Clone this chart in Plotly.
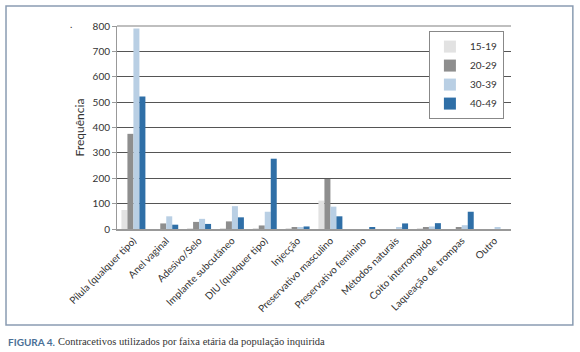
import plotly.graph_objects as go

categories = ["Pílula (qualquer tipo)", "Anel vaginal", "Adesivo/Selo", "Implante subcutâneo",
              "DIU (qualquer tipo)", "Injecção", "Preservativo masculino", "Preservativo feminino",
              "Métodos naturais", "Coito interrompido", "Laqueação de trompas", "Outro"]
age_groups = ["15-19", "20-29", "30-39", "40-49"]
v_15_19 = [75, 0, 2, 3, 2, 2, 112, 0, 0, 2, 0, 0]
v_20_29 = [375, 22, 28, 30, 14, 4, 197, 0, 0, 5, 5, 0]
v_30_39 = [790, 50, 40, 90, 68, 8, 88, 0, 7, 10, 15, 5]
v_40_49 = [522, 17, 20, 46, 277, 10, 50, 4, 22, 23, 68, 0]
colors = ["#e2e2e2", "#8e8e8e", "#b9cfe4", "#2f6fa7"]
y_ticks = [0, 100, 200, 300, 400, 500, 600, 700, 800]

series = [v_15_19, v_20_29, v_30_39, v_40_49]

fig = go.Figure()
for name, vals, c in zip(age_groups, series, colors):
    fig.add_trace(go.Bar(x=categories, y=vals, name=name, marker=dict(color=c, line=dict(width=0))))

fig.update_layout(
    width=580, height=352,
    margin=dict(l=117, r=69, t=26, b=123),
    paper_bgcolor="white", plot_bgcolor="white",
    barmode="group", bargap=0.27, bargroupgap=0,
    font=dict(family="Lato, Open Sans, sans-serif", size=10, color="#333"),
    legend=dict(x=0.982, xanchor="right", y=0.975, yanchor="top",
                bgcolor="white", bordercolor="#888", borderwidth=1,
                font=dict(size=10, color="#333"), itemwidth=30,
                tracegroupgap=0),
    showlegend=True,
)
fig.update_xaxes(tickangle=-45, showgrid=False, showline=True, linecolor="#999", linewidth=2,
                 ticks="", tickfont=dict(size=10, color="#333"))
fig.update_yaxes(range=[0, 800], tickvals=y_ticks, showgrid=True, gridcolor="#555", gridwidth=1,
                 showline=True, linecolor="#999", linewidth=1, ticks="outside", ticklen=4,
                 tickcolor="#999", tickfont=dict(size=10, color="#333"),
                 title=dict(text="Frequência", font=dict(size=12, color="#333"), standoff=5),
                 zeroline=False)

# outer frame
fig.add_shape(type="rect", xref="paper", yref="paper", x0=-0.2817, x1=1.157, y0=-0.473, y1=1.0985,
              line=dict(color="#8a9cb2", width=1.5), fillcolor="rgba(0,0,0,0)", layer="below")
# lighter top gridline
fig.add_shape(type="line", xref="paper", yref="paper", x0=0, x1=1, y0=1, y1=1,
              line=dict(color="#aaa", width=1.5))

fig.add_annotation(xref="paper", yref="paper", x=-0.125, y=1.05, text=".", showarrow=False,
                   font=dict(size=10, color="#333"))
fig.add_annotation(xref="paper", yref="paper", x=-0.282, xanchor="left", y=-0.555, yanchor="middle",
                   text="<b>FIGURA 4.</b>", showarrow=False,
                   font=dict(size=10, color="#4a6f96", family="Lato, sans-serif"))
fig.add_annotation(xref="paper", yref="paper", x=-0.155, xanchor="left", y=-0.555, yanchor="middle",
                   text="Contracetivos utilizados por faixa etária da população inquirida", showarrow=False,
                   font=dict(size=10.5, color="#333", family="Liberation Serif, DejaVu Serif, serif"))

fig.write_html("out.html", config={"displayModeBar": False},
               post_script="document.body.style.margin='0';document.body.style.padding='0';")
